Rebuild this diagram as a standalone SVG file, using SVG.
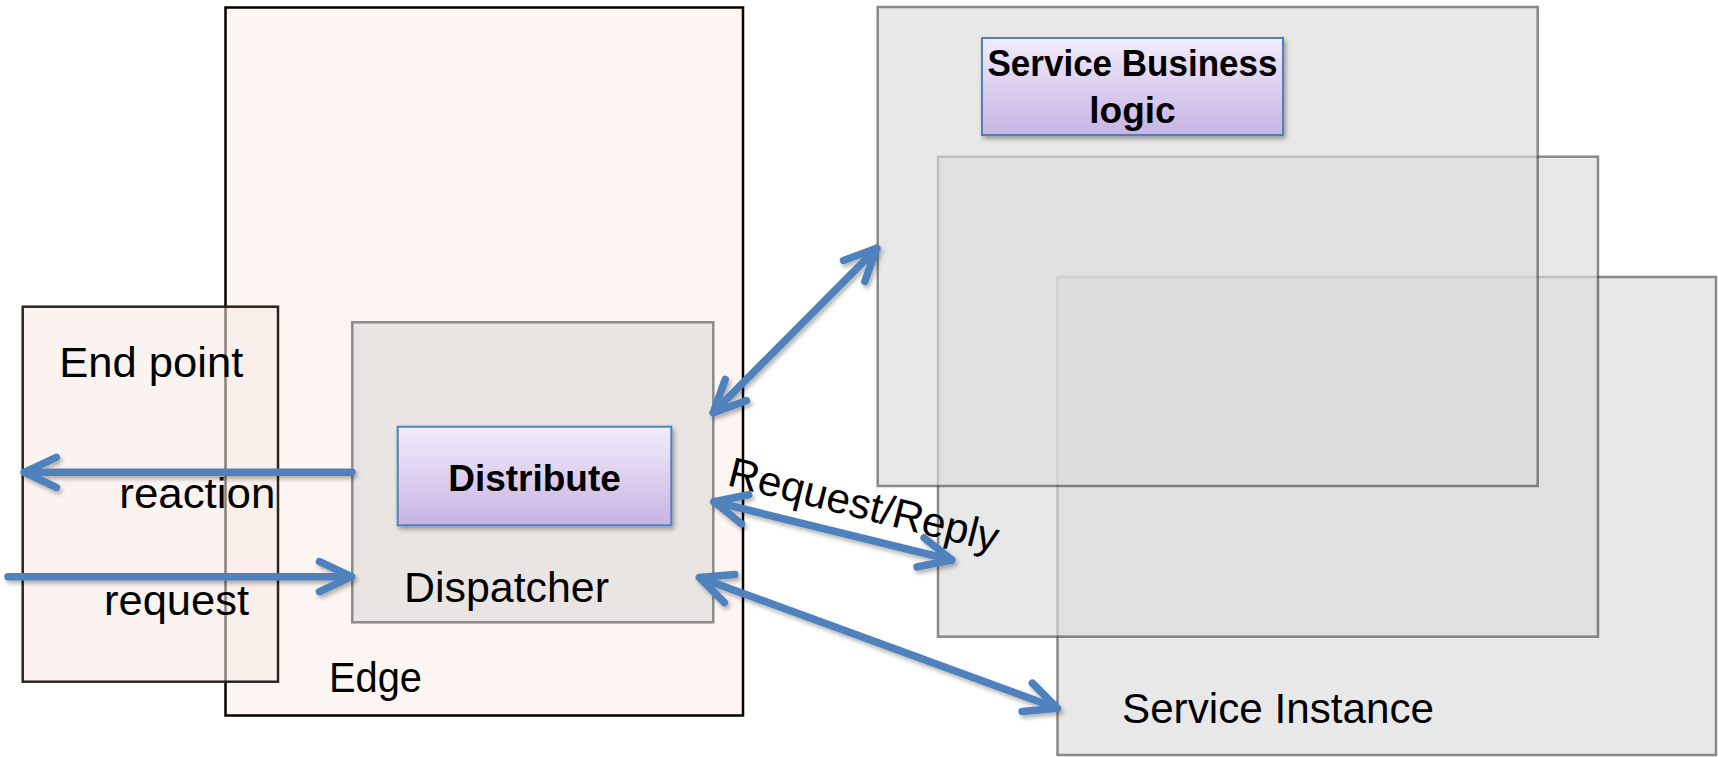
<svg xmlns="http://www.w3.org/2000/svg" width="1718" height="757" viewBox="0 0 1718 757">
  <style>
    .t { font-family: "Liberation Sans", Arial, sans-serif; font-size: 42px; fill: #000; }
    .b { font-family: "Liberation Sans", Arial, sans-serif; font-size: 37px; font-weight: bold; fill: #000; }
    .svc { fill: #dcdcdc; stroke: #4c4c4c; stroke-width: 2.5; opacity: 0.652; }
    .conn { fill: none; stroke: #4f81bd; stroke-width: 7.5; stroke-linecap: round; }
  </style>
  <defs>
    <linearGradient id="purple" x1="0" y1="0" x2="0" y2="1">
      <stop offset="0" stop-color="#f1ecfa"/>
      <stop offset="1" stop-color="#c9b3e3"/>
    </linearGradient>
    <filter id="shadow" x="-10%" y="-10%" width="130%" height="140%">
      <feDropShadow dx="2" dy="3" stdDeviation="2.5" flood-color="#000" flood-opacity="0.35"/>
    </filter>
    <filter id="ashadow" x="-10%" y="-10%" width="130%" height="140%">
      <feDropShadow dx="2" dy="3" stdDeviation="2" flood-color="#000" flood-opacity="0.3"/>
    </filter>
    <marker id="ah" markerUnits="userSpaceOnUse" orient="auto-start-reverse" overflow="visible" refX="0" refY="0" markerWidth="1" markerHeight="1">
      <path d="M-32,-15 L0,0 L-32,15" fill="none" stroke="#4f81bd" stroke-width="7.5" stroke-linecap="round" stroke-linejoin="round"/>
    </marker>
  </defs>

  <rect width="1718" height="757" fill="#ffffff"/>

  <g id="edge">
    <rect x="225.5" y="7.5" width="517.5" height="708" fill="#fdf5f2" stroke="#000" stroke-width="2.5"/>
    <text class="t" x="329" y="691.7" textLength="93" lengthAdjust="spacingAndGlyphs">Edge</text>
  </g>

  <g id="end-point">
    <rect x="22.7" y="306.7" width="255.3" height="375" fill="#f8e9e3" fill-opacity="0.55" stroke="#2b2522" stroke-width="2.5"/>
    <text class="t" x="59.3" y="377.3" textLength="184" lengthAdjust="spacingAndGlyphs">End point</text>
    <text class="t" x="119.3" y="508.3" textLength="156" lengthAdjust="spacingAndGlyphs">reaction</text>
    <text class="t" x="104" y="615" textLength="145" lengthAdjust="spacingAndGlyphs">request</text>
  </g>

  <g id="dispatcher">
    <rect x="352.3" y="322.3" width="361" height="300" fill="#e9e5e3" stroke="#8b8b8b" stroke-width="2.5"/>
    <text class="t" x="404" y="601.7" textLength="205" lengthAdjust="spacingAndGlyphs">Dispatcher</text>
  </g>

  <g id="distribute">
    <rect x="397.7" y="426.7" width="273.6" height="98.6" fill="url(#purple)" stroke="#4f81bd" stroke-width="2" filter="url(#shadow)"/>
    <text class="b" x="534.5" y="491" text-anchor="middle">Distribute</text>
  </g>

  <g id="service-instance-front">
    <rect class="svc" x="1057.5" y="277" width="658.5" height="478"/>
    <text class="t" x="1122" y="723" textLength="312" lengthAdjust="spacingAndGlyphs">Service Instance</text>
  </g>

  <g id="service-instance-middle">
    <rect class="svc" x="938" y="156.7" width="660" height="480"/>
  </g>

  <g id="service-instance-back">
    <rect class="svc" x="877.7" y="7" width="660" height="479"/>
  </g>

  <g id="service-business-logic">
    <rect x="982" y="38" width="301" height="97" fill="url(#purple)" stroke="#4f81bd" stroke-width="2" filter="url(#shadow)"/>
    <text class="b" x="1132.5" y="76" text-anchor="middle" textLength="290" lengthAdjust="spacingAndGlyphs">Service Business</text>
    <text class="b" x="1132.5" y="123" text-anchor="middle">logic</text>
  </g>

  <g id="connectors">
    <g filter="url(#ashadow)">
      <path class="conn" d="M352,472.3 L24.3,472.3" marker-end="url(#ah)"/>
      <path class="conn" d="M8,576.7 L351.5,576.7" marker-end="url(#ah)"/>
      <path class="conn" d="M713.3,412.7 L876.7,248.3" marker-start="url(#ah)" marker-end="url(#ah)"/>
      <path class="conn" d="M714,501.7 L951.7,560" marker-start="url(#ah)" marker-end="url(#ah)"/>
      <path class="conn" d="M699.5,577.5 L1057.3,708.3" marker-start="url(#ah)" marker-end="url(#ah)"/>
    </g>
    <text class="t" transform="translate(726,485) rotate(14)" x="0" y="0" textLength="277" lengthAdjust="spacingAndGlyphs">Request/Reply</text>
  </g>
</svg>
